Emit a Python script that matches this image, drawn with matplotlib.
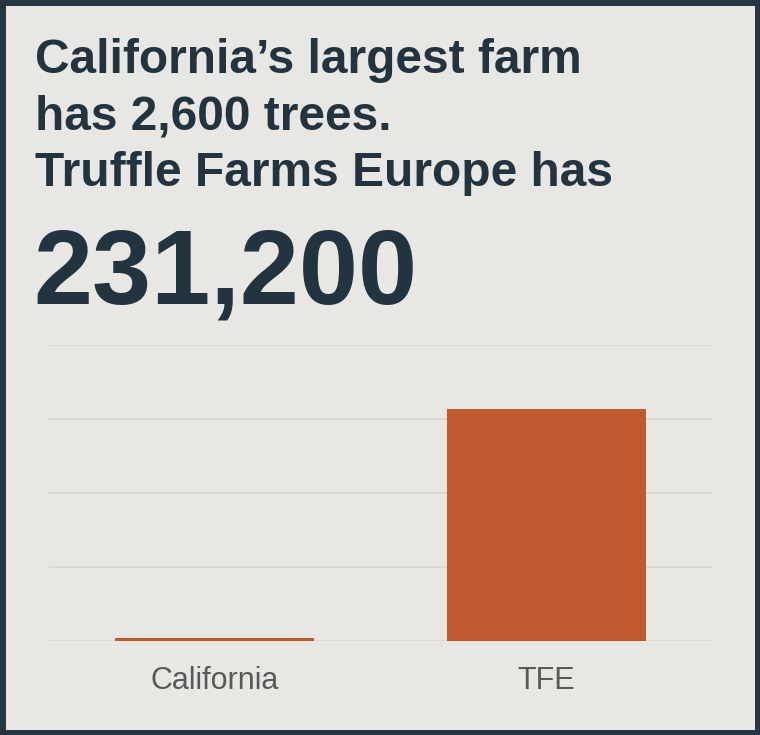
import matplotlib.pyplot as plt
import numpy as np
from matplotlib.patches import Rectangle

# Data
categories = ['California', 'TFE']
trees = [2600, 231200]
headline = ["California\u2019s largest farm", "has 2,600 trees.", "Truffle Farms Europe has"]
big_number = "231,200"

bg = '#E8E7E3'
dark = '#22343F'
bar_color = '#BE5A2D'

plt.rcParams['font.family'] = ['Liberation Sans', 'DejaVu Sans']

fig = plt.figure(figsize=(7.6, 7.35), dpi=100)
fig.patch.set_facecolor(bg)

# Border around the card
fig.patches.append(Rectangle((0.003, 0.003), 0.994, 0.994, transform=fig.transFigure,
                             fill=False, edgecolor='#243642', linewidth=5))

# Headline text
for i, line in enumerate(headline):
    fig.text(35 / 760, 1 - (73 + 56.5 * i) / 735, line, fontsize=34.5, fontweight='bold',
             color=dark, va='baseline', ha='left')
fig.text(33 / 760, 1 - 303 / 735, big_number, fontsize=76.5, fontweight='bold',
         color=dark, va='baseline', ha='left')

# Bar chart
ax = fig.add_axes([49 / 760, 0.1283, 663 / 760, 0.4019])
ax.set_facecolor(bg)
x = np.arange(len(categories))
ax.bar(x, trees, width=0.6, color=bar_color, zorder=3)
ax.set_xlim(-0.5, 1.5)
ymax = 295000
ax.set_ylim(0, ymax)
ax.set_yticks(np.linspace(0, ymax, 5))
ax.yaxis.grid(True, color='#DAD8D5', linewidth=1.5, zorder=0)
ax.set_yticklabels([])
ax.tick_params(axis='y', length=0)
ax.set_xticks(x)
ax.set_xticklabels(categories, fontsize=22, color='#595959')
ax.tick_params(axis='x', length=0, pad=18)
for s in ax.spines.values():
    s.set_visible(False)

fig.savefig('out.png', dpi=100, facecolor=bg)
